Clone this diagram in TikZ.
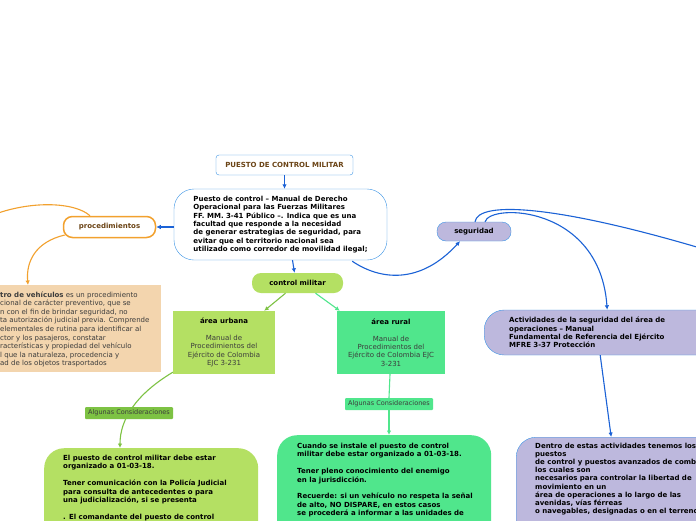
\documentclass[tikz,border=0pt]{standalone}
\usepackage{fontspec}
\setmainfont{DejaVu Sans}
\usepackage{xcolor}
\usetikzlibrary{arrows.meta,calc}
\definecolor{linkblue}{HTML}{1B62D6}
\definecolor{edgeblue}{HTML}{3D95E6}
\definecolor{orangeline}{HTML}{F2A12E}
\definecolor{greenA}{HTML}{B4E063}
\definecolor{greenAdark}{HTML}{7DC243}
\definecolor{greenB}{HTML}{50E68C}
\definecolor{lav}{HTML}{BDB8DD}
\definecolor{tanfill}{HTML}{F3D5AE}
\definecolor{textbrown}{HTML}{6B4416}
\definecolor{textgray}{HTML}{3C3C3C}

\tikzset{
  txt/.style={font=\fontsize{7}{8.4}\selectfont\bfseries,align=left,inner sep=0pt},
  bigbox/.style={rounded corners=20pt,inner sep=0pt},
  pill/.style={rounded corners=9pt,font=\fontsize{7}{8.4}\selectfont\bfseries,inner sep=0pt},
  areabox/.style={font=\fontsize{7}{8.4}\selectfont\color{textgray},align=center,inner sep=0pt},
  tag/.style={font=\fontsize{6.5}{7}\selectfont\color{textgray},inner sep=0pt,minimum width=88pt,minimum height=12pt,rounded corners=1pt},
  link/.style={draw=linkblue,line width=1.1pt,-{Latex[length=4.5pt,width=4.5pt]}},
}

\begin{document}
\begin{tikzpicture}[x=1pt,y=-1pt]
\useasboundingbox[fill=white] (0,0) rectangle (696,520);

% top of the map
\node[draw=edgeblue,fill=white,rounded corners=3pt,minimum width=137pt,minimum height=20pt,
  font=\fontsize{7}{8.4}\selectfont\bfseries\color{textbrown},inner sep=0pt] (title) at (284.5,165) {PUESTO DE CONTROL MILITAR};
\node[bigbox,txt,draw=edgeblue,fill=white,minimum width=213pt,minimum height=71pt] (main) at (280.5,224.5)
  {Puesto de control – Manual de Derecho\\
   Operacional para las Fuerzas Militares\\
   FF. MM. 3-41 Público –. Indica que es una\\
   facultad que responde a la necesidad\\
   de generar estrategias de seguridad, para\\
   evitar que el territorio nacional sea\\
   utilizado como corredor de movilidad ilegal;};

% procedimientos
\node[pill,draw=orangeline,line width=1.5pt,fill=white,minimum width=92pt,minimum height=21pt,
  text=textbrown] (proc) at (109.5,227) {procedimientos};
\node[fill=tanfill,anchor=north east,minimum width=200pt,minimum height=87pt,inner sep=0pt] (reg) at (161,285) {};
\node[txt,font=\fontsize{7}{8.6}\selectfont\color{textgray},anchor=west] (regtxt) at (0,329.5)
  {\textbf{tro de vehículos} es un procedimiento\\
   cional de carácter preventivo, que se\\
   n con el fin de brindar seguridad, no\\
   ta autorización judicial previa. Comprende\\
   elementales de rutina para identificar al\\
   ctor y los pasajeros, constatar\\
   racterísticas y propiedad del vehículo\\
   l que la naturaleza, procedencia y\\
   ad de los objetos trasportados};

% control militar
\node[pill,fill=greenA,minimum width=91pt,minimum height=20pt] (ctrl) at (297.5,283) {control militar};
\node[areabox,fill=greenA,minimum width=102pt,minimum height=63pt] (urb) at (224,342.5)
  {\textbf{\color{black}área urbana}\\[8.4pt]
   Manual de\\ Procedimientos del\\ Ejército de Colombia\\ EJC 3-231};
\node[areabox,fill=greenB,minimum width=108pt,minimum height=63pt] (rur) at (391,342.5)
  {\textbf{\color{black}área rural}\\[8.4pt]
   Manual de\\ Procedimientos del\\ Ejército de Colombia EJC\\ 3-231};

\node[bigbox,fill=greenA,anchor=north west,minimum width=214pt,minimum height=120pt] (consA) at (44,448) {};
\node[txt,anchor=north west] (consAtxt) at (63,455)
  {El puesto de control militar debe estar\\
   organizado a 01-03-18.\\[8.4pt]
   Tener comunicación con la Policía Judicial\\
   para consulta de antecedentes o para\\
   una judicialización, si se presenta\\[8.4pt]
   . El comandante del puesto de control};
\node[bigbox,fill=greenB,anchor=north west,minimum width=214pt,minimum height=120pt] (consB) at (277,435) {};
\node[txt,anchor=north west] (consBtxt) at (297,443)
  {Cuando se instale el puesto de control\\
   militar debe estar organizado a 01-03-18.\\[8.4pt]
   Tener pleno conocimiento del enemigo\\
   en la jurisdicción.\\[8.4pt]
   Recuerde: si un vehículo no respeta la señal\\
   de alto, NO DISPARE, en estos casos\\
   se procederá a informar a las unidades de};

% seguridad
\node[pill,draw=edgeblue,fill=lav,minimum width=74pt,minimum height=19pt] (seg) at (474,231.5) {seguridad};
\node[bigbox,txt,draw=edgeblue,fill=lav,anchor=west,text width=186pt,inner xsep=25pt,minimum height=45pt] (act) at (484,332.5)
  {Actividades de la seguridad del área de\\
   operaciones – Manual\\
   Fundamental de Referencia del Ejército\\
   MFRE 3-37 Protección};
\node[bigbox,draw=edgeblue,fill=lav,anchor=north west,minimum width=220pt,minimum height=120pt] (dentro) at (516,437) {};
\node[txt,font=\fontsize{7}{8.1}\selectfont\bfseries,anchor=north west] (dentrotxt) at (535,443)
  {Dentro de estas actividades tenemos los\\ puestos\\
   de control y puestos avanzados de combate\\ los cuales son\\
   necesarios para controlar la libertad de\\ movimiento en un\\
   área de operaciones a lo largo de las\\ avenidas, vías férreas\\
   o navegables, designadas o en el terreno};

\coordinate (offL) at (-10,216);
\coordinate (offR) at (720,254);

% connectors
\draw[link] (title.south) -- (title.south |- main.north);
\draw[link] (main.west |- proc.east) -- (proc.east);
\draw[link] ($(main.south)+(12,0)$) -- ($(ctrl.north)+(-3,0)$);
\draw[link] ($(main.south east)+(-35,1)$) .. controls (380,280) and (420,285) .. ($(seg.south)+(-14,0)$);
\draw[draw=linkblue,line width=1.1pt] ($(seg.north)+(1,0)$) .. controls (478,200) and (560,205) .. (offR);
\draw[link] ($(seg.north)+(11,0)$) .. controls (490,203) and (600,205) .. ($(act.north)+(5,0)$);
\draw[link] ($(act.south)+(-2,0)$) -- ($(dentro.north)+(-15,0)$);

\draw[orangeline,line width=1.1pt] ($(proc.north)+(-19.5,0)$) .. controls (75,202) and (30,200) .. (offL);
\draw[orangeline,line width=1.1pt,-{Latex[length=4.5pt,width=4.5pt]}] ($(proc.west)+(2,8)$) .. controls (35,242) and (26,262) .. ($(reg.north east)+(-133,0)$);

\draw[greenAdark,line width=1.1pt,-{Latex[length=4.5pt,width=4.5pt]}] ($(ctrl.south)+(-12,0)$) -- ($(urb.north east)+(-11,0)$);
\draw[greenB,line width=1.1pt,-{Latex[length=4.5pt,width=4.5pt]}] ($(ctrl.south)+(18,0)$) -- ($(rur.north west)+(3,0)$);
\draw[greenAdark,line width=1.1pt,-{Latex[length=4.5pt,width=4.5pt]}] ($(urb.south west)+(0,-2)$) .. controls (135,395) and (120,420) .. ($(consA.north west)+(76,0)$);

\node[tag,fill=greenAdark] (tagA) at (129,413) {Algunas Consideraciones};
\node[tag,fill=greenB] (tagB) at (389,404) {Algunas Consideraciones};
\draw[greenB,line width=1.1pt] ($(rur.south)+(-1,0)$) -- (tagB.north);
\draw[greenB,line width=1.1pt,-{Latex[length=4.5pt,width=4.5pt]}] (tagB.south) -- (tagB.south |- consB.north);

\end{tikzpicture}
\end{document}
